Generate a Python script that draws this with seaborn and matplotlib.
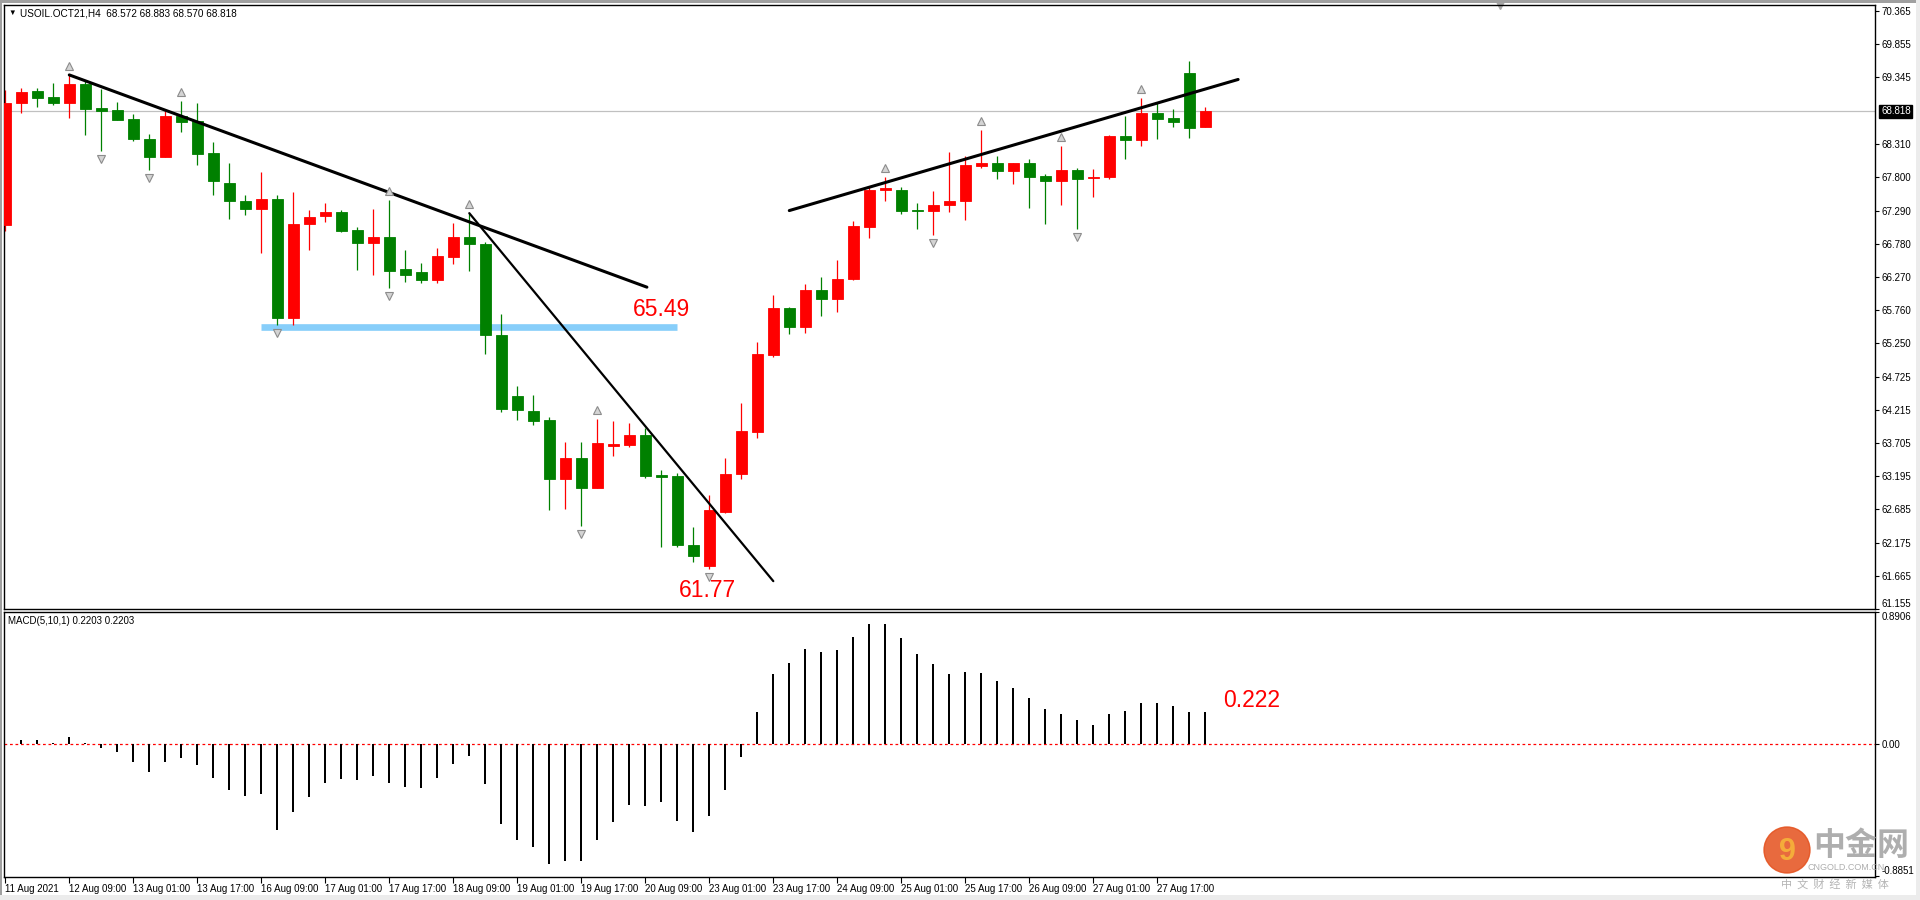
import numpy as np
import pandas as pd
import seaborn as sns
import matplotlib
matplotlib.use('Agg')
import matplotlib.pyplot as plt
from matplotlib.patches import Rectangle, Circle
from matplotlib.transforms import offset_copy, blended_transform_factory

# ==========================================
# DATOS (USOIL.OCT21, H4)
# ==========================================

opens = [67.06, 68.94, 69.13, 69.04, 68.95, 69.24, 68.87, 68.84, 68.70, 68.40,
         68.12, 68.75, 68.67, 68.17, 67.71, 67.44, 67.32, 67.47, 65.64, 67.09,
         67.20, 67.27, 66.99, 66.79, 66.88, 66.39, 66.34, 66.22, 66.58, 66.89,
         66.78, 65.38, 64.43, 64.20, 64.06, 63.15, 63.47, 63.02, 63.67, 63.68,
         63.83, 63.21, 63.20, 62.13, 61.82, 62.65, 63.23, 63.88, 65.07, 65.79,
         65.50, 66.07, 65.93, 66.23, 67.04, 67.60, 67.61, 67.30, 67.29, 67.37,
         67.43, 67.98, 68.02, 67.90, 68.02, 67.82, 67.74, 67.92, 67.79, 67.80,
         68.44, 68.38, 68.79, 68.72, 69.41, 68.572]
highs = [69.15, 69.18, 69.18, 69.25, 69.38, 69.29, 69.17, 68.96, 68.78, 68.47,
         68.82, 68.98, 68.95, 68.35, 68.02, 67.53, 67.88, 67.53, 67.58, 67.30,
         67.41, 67.30, 67.03, 67.32, 67.45, 66.68, 66.48, 66.71, 67.10, 67.25,
         66.81, 65.70, 64.58, 64.45, 64.11, 63.73, 63.73, 64.08, 64.05, 64.01,
         63.94, 63.29, 63.24, 62.42, 62.90, 63.48, 64.33, 65.26, 65.99, 65.80,
         66.16, 66.26, 66.53, 67.13, 67.67, 67.80, 67.65, 67.41, 67.59, 68.19,
         68.13, 68.53, 68.13, 68.03, 68.08, 67.86, 68.28, 67.95, 67.93, 68.46,
         68.75, 69.02, 68.94, 68.86, 69.59, 68.883]
lows = [66.98, 68.80, 68.88, 68.92, 68.72, 68.45, 68.21, 68.68, 68.36, 67.91,
        68.11, 68.50, 67.99, 67.53, 67.16, 67.22, 66.64, 65.52, 65.52, 66.68,
        67.11, 66.96, 66.37, 66.29, 66.10, 66.19, 66.17, 66.18, 66.46, 66.36,
        65.08, 64.18, 64.06, 63.98, 62.67, 62.69, 62.43, 63.01, 63.51, 63.65,
        63.17, 62.11, 62.11, 61.88, 61.77, 62.63, 63.16, 63.79, 65.04, 65.39,
        65.41, 65.66, 65.72, 66.22, 66.87, 67.44, 67.24, 67.01, 66.91, 67.27,
        67.15, 67.95, 67.77, 67.70, 67.33, 67.09, 67.38, 67.01, 67.50, 67.78,
        68.09, 68.28, 68.39, 68.57, 68.41, 68.570]
closes = [68.95, 69.11, 69.03, 68.95, 69.24, 68.86, 68.82, 68.69, 68.40, 68.12,
          68.75, 68.66, 68.16, 67.75, 67.43, 67.32, 67.47, 65.64, 67.09, 67.19,
          67.27, 66.98, 66.79, 66.88, 66.36, 66.29, 66.22, 66.59, 66.88, 66.78,
          65.38, 64.23, 64.21, 64.05, 63.15, 63.47, 63.02, 63.71, 63.69, 63.83,
          63.20, 63.19, 62.13, 61.97, 62.67, 63.23, 63.90, 65.08, 65.79, 65.50,
          66.07, 65.93, 66.24, 67.05, 67.61, 67.64, 67.29, 67.29, 67.38, 67.44,
          67.99, 68.02, 67.90, 68.02, 67.81, 67.74, 67.92, 67.78, 67.80, 68.44,
          68.38, 68.79, 68.70, 68.66, 68.56, 68.818]

# MACD(5,10,1) histograma
macd = [0.000, 0.029, 0.029, 0.007, 0.049, 0.007, -0.022, -0.054, -0.117, -0.188,
        -0.117, -0.090, -0.139, -0.224, -0.305, -0.345, -0.332, -0.579, -0.458, -0.354,
        -0.260, -0.233, -0.240, -0.211, -0.260, -0.287, -0.292, -0.224, -0.130, -0.081,
        -0.269, -0.534, -0.646, -0.691, -0.808, -0.785, -0.785, -0.641, -0.520, -0.408,
        -0.413, -0.386, -0.516, -0.588, -0.482, -0.305, -0.085, 0.215, 0.475, 0.547,
        0.641, 0.619, 0.632, 0.722, 0.807, 0.807, 0.713, 0.610, 0.538, 0.475,
        0.489, 0.480, 0.426, 0.377, 0.310, 0.238, 0.202, 0.161, 0.130, 0.202,
        0.224, 0.278, 0.278, 0.260, 0.215, 0.2203]

time_labels = ['11 Aug 2021', '12 Aug 09:00', '13 Aug 01:00', '13 Aug 17:00', '16 Aug 09:00',
               '17 Aug 01:00', '17 Aug 17:00', '18 Aug 09:00', '19 Aug 01:00', '19 Aug 17:00',
               '20 Aug 09:00', '23 Aug 01:00', '23 Aug 17:00', '24 Aug 09:00', '25 Aug 01:00',
               '25 Aug 17:00', '26 Aug 09:00', '27 Aug 01:00', '27 Aug 17:00']
label_step = 4

price_ticks = [70.365, 69.855, 69.345, 68.310, 67.800, 67.290, 66.780, 66.270, 65.760,
               65.250, 64.725, 64.215, 63.705, 63.195, 62.685, 62.175, 61.665, 61.155]
macd_ticks = [0.8906, 0.0, -0.8851]
macd_tick_labels = ['0.8906', '0.00', '-0.8851']

# fractales (índice de barra)
fractal_up = [4, 11, 24, 29, 37, 55, 61, 66, 71]
fractal_down = [6, 9, 17, 24, 36, 44, 58, 67]

# líneas dibujadas: (barras, precios)
trend1_bars, trend1_prices = [4, 40.1], [69.38, 66.11]
trend2_bars, trend2_prices = [29, 48.0], [67.25, 61.58]
trend3_bars, trend3_prices = [49, 77.05], [67.29, 69.31]
support_bars, support_price = [16, 42], 65.49
last_price = 68.818

# ==========================================
# ESTILO / FIGURA
# ==========================================

sns.set_theme(style='white')
plt.rcParams['font.family'] = ['Liberation Sans', 'DejaVu Sans']

W, H = 1920, 900
fig = plt.figure(figsize=(19.2, 9), dpi=100)
fig.patch.set_facecolor('white')


def box(x0, y0, x1, y1):
    # caja en pixeles -> fracción de figura
    return [x0 / W, 1 - y1 / H, (x1 - x0) / W, (y1 - y0) / H]


ax = fig.add_axes(box(4, 5, 1875, 609))
ax2 = fig.add_axes(box(4, 612, 1875, 877))

n = len(closes)
bars = np.arange(n)
xlim = ((4 - 5.3) / 16, (1875 - 5.3) / 16)

df = pd.DataFrame({'bar': bars, 'open': opens, 'high': highs, 'low': lows, 'close': closes})
df['up'] = df['close'] >= df['open']
colors = np.where(df['up'], '#FF0000', '#008000')

# — Velas —
ax.axhline(last_price, color='#c0c0c0', lw=0.9, zorder=1)
ax.vlines(df['bar'], df['low'], df['high'], colors=colors, lw=0.9, zorder=2)
body_lo = np.minimum(df['open'], df['close'])
body_h = (df['close'] - df['open']).abs()
ax.bar(df['bar'], body_h, bottom=body_lo, width=0.68, color=colors,
       edgecolor=colors, linewidth=0.6, zorder=3)

# soporte + líneas de tendencia
ax.plot(support_bars, [support_price] * 2, color='#87CEFA', lw=4.8,
        solid_capstyle='butt', zorder=1.5)
ax.plot(trend1_bars, trend1_prices, color='black', lw=2.2, zorder=4)
ax.plot(trend2_bars, trend2_prices, color='black', lw=1.6, zorder=4)
ax.plot(trend3_bars, trend3_prices, color='black', lw=2.2, zorder=4)

# fractales
up_tr = offset_copy(ax.transData, fig=fig, x=0, y=9, units='dots')
dn_tr = offset_copy(ax.transData, fig=fig, x=0, y=-8, units='dots')
ax.plot(fractal_up, [highs[i] for i in fractal_up], ls='none', marker='^', ms=6,
        mfc='#d4d4d4', mec='#8c8c8c', mew=0.8, transform=up_tr, zorder=5)
ax.plot(fractal_down, [lows[i] for i in fractal_down], ls='none', marker='v', ms=6,
        mfc='#d4d4d4', mec='#8c8c8c', mew=0.8, transform=dn_tr, zorder=5)

# etiquetas de precio
ax.text(41.0, 65.77, '65.49', color='#FF0000', fontsize=16.5, ha='center', va='center')
ax.text(43.9, 61.44, '61.77', color='#FF0000', fontsize=16.5, ha='center', va='center')

ax.set_xlim(*xlim)
ax.set_ylim(70.365 - (609 - 11) / 64.9, 70.365 + 6 / 64.9)
ax.set_xticks([])
ax.yaxis.tick_right()
ax.set_yticks(price_ticks)
ax.set_yticklabels([f'{p:.3f}' for p in price_ticks])
ax.tick_params(axis='y', right=True, left=False, direction='out', length=3, width=0.8,
               labelsize=7, pad=2, colors='black')
for t in ax.yaxis.get_major_ticks()[-1:]:
    t.label2.set_va('bottom')

trans = blended_transform_factory(ax.transAxes, ax.transData)
ax.text(1 + 6 / 1871, last_price, f'{last_price:.3f}', transform=trans, ha='left',
        va='center', color='white', fontsize=7,
        bbox=dict(facecolor='black', edgecolor='black', pad=1.2))
ax.plot([0.7996], [1.0], marker='v', ms=6, color='#a8a8a8', transform=ax.transAxes,
        clip_on=False)

# — MACD —
mdf = pd.DataFrame({'bar': bars, 'macd': macd})
sns.barplot(data=mdf, x='bar', y='macd', color='black', width=0.13, errorbar=None,
            native_scale=True, linewidth=0, saturation=1, ax=ax2)
ax2.axhline(0, color='#FF0000', lw=0.9, ls=(0, (2.2, 2.2)), zorder=0)
ax2.text(77.9, 0.298, '0.222', color='#FF0000', fontsize=16.5, ha='center', va='center')

ax2.set_xlim(*xlim)
ax2.set_ylim(-0.893, 0.8906)
ax2.set_xlabel('')
ax2.set_ylabel('')
ax2.set_xticks(bars[::label_step][:len(time_labels)])
ax2.set_xticklabels(time_labels, ha='left')
ax2.tick_params(axis='x', bottom=True, direction='out', length=4, width=0.8,
                labelsize=7, pad=1, colors='black')
ax2.yaxis.tick_right()
ax2.set_yticks(macd_ticks)
ax2.set_yticklabels(macd_tick_labels)
ax2.tick_params(axis='y', right=True, left=False, direction='out', length=3, width=0.8,
                labelsize=7, pad=2, colors='black')
ticks = ax2.yaxis.get_major_ticks()
ticks[0].label2.set_va('top')
ticks[2].label2.set_va('bottom')

for a in (ax, ax2):
    for s in a.spines.values():
        s.set_color('black')
        s.set_linewidth(1.0)
    a.set_facecolor('white')

# textos de cabecera
fig.text(8 / W, 1 - 13 / H, '▼', fontsize=5.5, color='black', va='center')
fig.text(20 / W, 1 - 13 / H, 'USOIL.OCT21,H4  68.572 68.883 68.570 68.818',
         fontsize=7.2, color='black', va='center')
fig.text(8 / W, 1 - 621 / H, 'MACD(5,10,1) 0.2203 0.2203', fontsize=7,
         color='black', va='center')

# borde de ventana
fig.add_artist(Rectangle((0, 1 - 3 / H), 1, 3 / H, transform=fig.transFigure,
                         color='#a0a0a0', lw=0))
fig.add_artist(Rectangle((0, 0), 2 / W, 1, transform=fig.transFigure,
                         color='#a0a0a0', lw=0))
fig.add_artist(Rectangle((1916 / W, 0), 4 / W, 1, transform=fig.transFigure,
                         color='#ececec', lw=0))
fig.add_artist(Rectangle((0, 0), 1, 5 / H, transform=fig.transFigure,
                         color='#ececec', lw=0))

# marca de agua (en pulgadas para que el círculo sea redondo)
cjk = ['Noto Sans CJK SC', 'DejaVu Sans']
fig.add_artist(Circle((17.87, 0.50), 0.23, transform=fig.dpi_scale_trans,
                      color='#e4501c', alpha=0.85, zorder=10))
fig.text(1787 / W, 1 - 852 / H, '9', fontsize=22, fontweight='bold', color='#f6b43a',
         ha='center', va='center', alpha=0.9, zorder=11)
fig.text(1861 / W, 1 - 846 / H, '中金网', family=cjk, fontsize=23, fontweight='bold',
         color='#a0a0a0', ha='center', va='center', alpha=0.85, zorder=11)
fig.text(1846 / W, 1 - 868 / H, 'CNGOLD.COM.CN', fontsize=6.5, color='#a0a0a0',
         ha='center', va='center', alpha=0.85, zorder=11)
fig.text(1835 / W, 1 - 884 / H, '中  文  财  经  新  媒  体', family=cjk, fontsize=8,
         color='#a8a8a8', ha='center', va='center', alpha=0.85, zorder=11)

plt.savefig('out.png', dpi=100)
